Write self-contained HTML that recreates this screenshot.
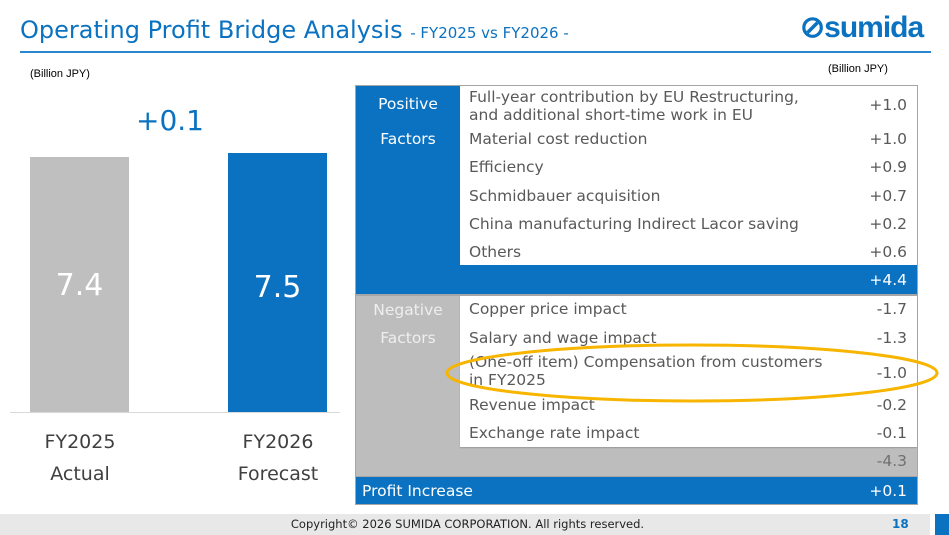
<!DOCTYPE html>
<html><head><meta charset="utf-8"><style>
body{margin:0;width:949px;height:535px;background:#fff;position:relative;overflow:hidden;font-family:"DejaVu Sans","Liberation Sans",sans-serif;}
.a{position:absolute;white-space:nowrap}
.t{color:#595959;font-size:15.5px}
.v{color:#595959;font-size:15.5px;right:42px;text-align:right}
</style></head><body>
<div class="a" style="left:20px;top:16px;font-size:24px;color:#0a72c0;">Operating Profit Bridge Analysis <span style="font-size:15px">- FY2025 vs FY2026 -</span></div>
<div class="a" style="left:800px;top:10px;font-size:30px;font-weight:bold;color:#0a72c0;font-family:'Liberation Sans',sans-serif;letter-spacing:-1px">⊘sumida</div>
<div class="a" style="left:20px;top:51px;width:911px;height:2px;background:#2a86cf"></div>
<div class="a" style="left:30px;top:68px;font-size:11px;font-family:'Liberation Sans',sans-serif;color:#000">(Billion JPY)</div>
<div class="a" style="left:828px;top:63px;font-size:11px;font-family:'Liberation Sans',sans-serif;color:#000">(Billion JPY)</div>
<!-- bars -->
<div class="a" style="left:30px;top:157px;width:99px;height:255px;background:#bfbfbf"></div>
<div class="a" style="left:228px;top:153px;width:99px;height:259px;background:#0a72c0"></div>
<div class="a" style="left:10px;top:412px;width:330px;height:1px;background:#d9d9d9"></div>
<div class="a" style="left:30px;top:268px;width:99px;text-align:center;color:#fff;font-size:30px">7.4</div>
<div class="a" style="left:228px;top:270px;width:99px;text-align:center;color:#fff;font-size:30px">7.5</div>
<div class="a" style="left:120px;top:104px;width:100px;text-align:center;color:#0a72c0;font-size:28px">+0.1</div>
<div class="a" style="left:20px;top:426px;width:120px;text-align:center;color:#404040;font-size:19px;line-height:32px">FY2025<br>Actual</div>
<div class="a" style="left:218px;top:426px;width:120px;text-align:center;color:#404040;font-size:19px;line-height:32px">FY2026<br>Forecast</div>
<!-- table -->
<div class="a" style="left:355px;top:85px;width:563px;height:420px;background:#a6a6a6"></div>
<div class="a" style="left:356px;top:86px;width:561px;height:208px;background:#0a72c0"></div>
<div class="a" style="left:460px;top:86px;width:457px;height:179px;background:#fff"></div>
<div class="a" style="left:356px;top:296px;width:561px;height:180px;background:#bdbdbd"></div>
<div class="a" style="left:460px;top:296px;width:457px;height:151px;background:#fff;box-shadow:0 1px 1px #999"></div>
<div class="a" style="left:356px;top:477px;width:561px;height:27px;background:#0a72c0"></div>
<div class="a" style="left:356px;top:95px;width:104px;text-align:center;color:#fff;font-size:15.5px">Positive</div>
<div class="a" style="left:356px;top:130px;width:104px;text-align:center;color:#fff;font-size:15.5px">Factors</div>
<div class="a" style="left:356px;top:301px;width:104px;text-align:center;color:#eee;font-size:15.5px">Negative</div>
<div class="a" style="left:356px;top:329px;width:104px;text-align:center;color:#eee;font-size:15.5px">Factors</div>
<div class="a t" style="left:469px;top:88px;line-height:18px">Full-year contribution by EU Restructuring,<br>and additional short-time work in EU</div><div class="a v" style="top:96px">+1.0</div>
<div class="a t" style="left:469px;top:130px">Material cost reduction</div><div class="a v" style="top:130px">+1.0</div>
<div class="a t" style="left:469px;top:158px">Efficiency</div><div class="a v" style="top:158px">+0.9</div>
<div class="a t" style="left:469px;top:187px">Schmidbauer acquisition</div><div class="a v" style="top:187px">+0.7</div>
<div class="a t" style="left:469px;top:215px">China manufacturing Indirect Lacor saving</div><div class="a v" style="top:215px">+0.2</div>
<div class="a t" style="left:469px;top:243px">Others</div><div class="a v" style="top:243px">+0.6</div>
<div class="a v" style="top:271px;color:#fff">+4.4</div>
<div class="a t" style="left:469px;top:300px">Copper price impact</div><div class="a v" style="top:300px">-1.7</div>
<div class="a t" style="left:469px;top:329px">Salary and wage impact</div><div class="a v" style="top:329px">-1.3</div>
<div class="a t" style="left:469px;top:353px;line-height:18px">(One-off item) Compensation from customers<br>in FY2025</div><div class="a v" style="top:364px">-1.0</div>
<div class="a t" style="left:469px;top:396px">Revenue impact</div><div class="a v" style="top:396px">-0.2</div>
<div class="a t" style="left:469px;top:424px">Exchange rate impact</div><div class="a v" style="top:424px">-0.1</div>
<div class="a v" style="top:452px;color:#707070">-4.3</div>
<div class="a" style="left:362px;top:482px;color:#fff;font-size:15.5px">Profit Increase</div><div class="a v" style="top:482px;color:#fff">+0.1</div>
<svg class="a" style="left:0;top:0" width="949" height="535"><ellipse cx="692" cy="373" rx="245" ry="28" fill="none" stroke="#f7b500" stroke-width="3"/></svg>
<!-- footer -->
<div class="a" style="left:0;top:514px;width:930px;height:21px;background:#e8e8e8"></div>
<div class="a" style="left:935px;top:514px;width:14px;height:21px;background:#0a72c0"></div>
<div class="a" style="left:0;top:517px;width:935px;text-align:center;font-size:11.5px;color:#222">Copyright© 2026 SUMIDA CORPORATION. All rights reserved.</div>
<div class="a" style="left:892px;top:517px;font-size:12px;color:#0a72c0;font-weight:bold">18</div>
</body></html>
